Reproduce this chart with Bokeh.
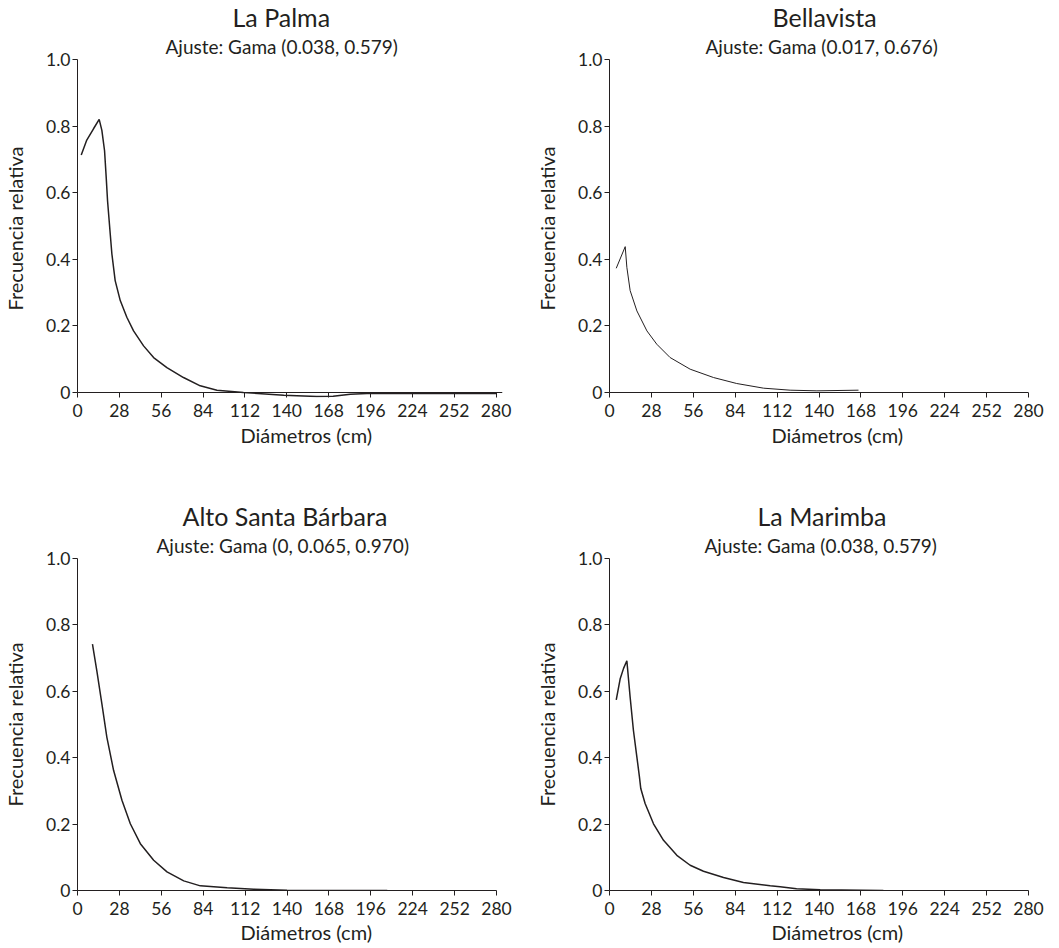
from bokeh.plotting import figure
from bokeh.layouts import column, row
from bokeh.models import Range1d, FixedTicker, Title, CustomJSTickFormatter, Span
from bokeh.embed import file_html
from bokeh.resources import INLINE

FONT = "Lato"
INK = "#231f20"

x_ticks = [0, 28, 56, 84, 112, 140, 168, 196, 224, 252, 280]
y_ticks = [0, 0.2, 0.4, 0.6, 0.8, 1.0]

titles = ["La Palma", "Bellavista", "Alto Santa Bárbara", "La Marimba"]
subtitles = ["Ajuste: Gama (0.038, 0.579)", "Ajuste: Gama (0.017, 0.676)",
             "Ajuste: Gama (0, 0.065, 0.970)", "Ajuste: Gama (0.038, 0.579)"]
x_label = "Diámetros (cm)"
y_label = "Frecuencia relativa"

la_palma_x = [2.5, 6.2, 10.7, 14.5, 16.3, 18.1, 19.2, 20.1, 21.9, 23.0, 25.2, 28.6, 33.0,
              37.5, 44.2, 50.9, 59.8, 70.9, 82.1, 93.3, 111, 138, 160, 171, 182.5, 193.7, 280]
la_palma_y = [0.713, 0.758, 0.792, 0.820, 0.787, 0.726, 0.646, 0.576, 0.476, 0.416, 0.336,
              0.276, 0.226, 0.185, 0.140, 0.105, 0.075, 0.045, 0.020, 0.007, 0.0, -0.008,
              -0.012, -0.011, -0.005, -0.003, -0.003]

bellavista_x = [4.5, 10.5, 11.6, 13.8, 18.3, 25.0, 31.6, 40.5, 53.9, 69.5, 85.0, 103.0,
                120.7, 138.6, 166.4]
bellavista_y = [0.373, 0.438, 0.376, 0.306, 0.245, 0.185, 0.145, 0.105, 0.070, 0.045,
                0.027, 0.013, 0.007, 0.005, 0.007]

santa_barbara_x = [10.0, 12.9, 16.3, 19.6, 24.1, 29.7, 35.3, 42.0, 50.9, 59.8, 71.0, 82.1,
                   100.0, 117.8, 140.0, 207.0]
santa_barbara_y = [0.742, 0.662, 0.562, 0.462, 0.362, 0.272, 0.201, 0.141, 0.091, 0.056,
                   0.029, 0.014, 0.008, 0.004, 0.001, 0.0]

marimba_x = [4.5, 7.1, 9.4, 11.6, 13.8, 16.0, 18.3, 20.0, 20.9, 23.8, 29.4, 36.1, 45.0,
             53.9, 62.8, 76.2, 89.5, 107.4, 114.0, 125.0, 140.8, 183.0]
marimba_y = [0.574, 0.637, 0.669, 0.692, 0.582, 0.482, 0.402, 0.342, 0.307, 0.262, 0.201,
             0.151, 0.106, 0.076, 0.058, 0.039, 0.024, 0.014, 0.011, 0.005, 0.002, 0.0]


def make_panel(xs, ys, title, subtitle, width, height, mbl, mbr, mbt, mbb, x_end, y_start, lw,
               title_off, sub_off, xlab_off, xlab_standoff):
    p = figure(width=width, height=height, title=None,
               x_range=Range1d(0, x_end), y_range=Range1d(y_start, 1.0),
               output_backend="svg", toolbar_location=None,
               min_border_left=mbl, min_border_right=mbr,
               min_border_top=mbt, min_border_bottom=mbb)
    p.outline_line_color = None
    p.grid.visible = False
    p.background_fill_color = "white"
    p.border_fill_color = "white"
    p.line(xs, ys, line_color=INK, line_width=lw)

    p.add_layout(Title(text=subtitle, align="left", offset=sub_off, text_font=FONT,
                       text_font_size="19px", text_font_style="normal", text_color=INK,
                       standoff=4), "above")
    p.add_layout(Title(text=title, align="left", offset=title_off, text_font=FONT,
                       text_font_size="25px", text_font_style="normal", text_color=INK,
                       standoff=-3), "above")

    for ax in (p.xaxis[0], p.yaxis[0]):
        ax.axis_line_color = INK
        ax.axis_line_width = 1
        ax.major_tick_line_color = INK
        ax.major_tick_in = 0
        ax.major_tick_out = 5
        ax.minor_tick_line_color = None
        ax.major_label_text_font = FONT
        ax.major_label_text_font_size = "17.5px"
        ax.major_label_text_color = INK
        ax.axis_label_text_font = FONT
        ax.axis_label_text_font_size = "20px"
        ax.axis_label_text_font_style = "normal"
        ax.axis_label_text_color = INK

    p.xaxis.ticker = FixedTicker(ticks=x_ticks)
    p.xaxis.major_label_standoff = 6
    p.add_layout(Title(text=x_label, align="left", offset=xlab_off, text_font=FONT,
                       text_font_size="20px", text_font_style="normal", text_color=INK,
                       vertical_align="top", standoff=xlab_standoff), "below")

    p.yaxis.ticker = FixedTicker(ticks=y_ticks)
    p.yaxis.formatter = CustomJSTickFormatter(code="return tick == 0 ? '0' : tick.toFixed(1);")
    p.yaxis.axis_label = y_label
    p.yaxis.major_label_standoff = 2
    p.yaxis.axis_label_standoff = 16
    p.yaxis.bounds = (0, 1)
    if y_start < 0:
        # zero line drawn inside the frame so the curve may dip slightly below it
        p.xaxis.axis_line_color = None
        p.xaxis.major_tick_in = 5
        p.xaxis.major_tick_out = 0
        p.add_layout(Span(location=0, dimension="width", line_color=INK, line_width=1))
    return p


p1 = make_panel(la_palma_x, la_palma_y, titles[0], subtitles[0], 530, 480, 77, 28, 59, 83,
                284.3, -0.015, 1.5, 155, 88, 163, 7)
p2 = make_panel(bellavista_x, bellavista_y, titles[1], subtitles[1], 529, 480, 79, 31, 59, 83,
                280, -0.015, 1.0, 163, 96, 162, 7)
p3 = make_panel(santa_barbara_x, santa_barbara_y, titles[2], subtitles[2], 530, 468, 77, 34, 78, 58,
                280, 0.0, 1.5, 105, 79, 163, 5)
p4 = make_panel(marimba_x, marimba_y, titles[3], subtitles[3], 529, 468, 79, 31, 78, 58,
                280, 0.0, 1.5, 148, 95, 162, 5)

layout = column(row(p1, p2), row(p3, p4))
open("out.html", "w").write(file_html(layout, INLINE))
